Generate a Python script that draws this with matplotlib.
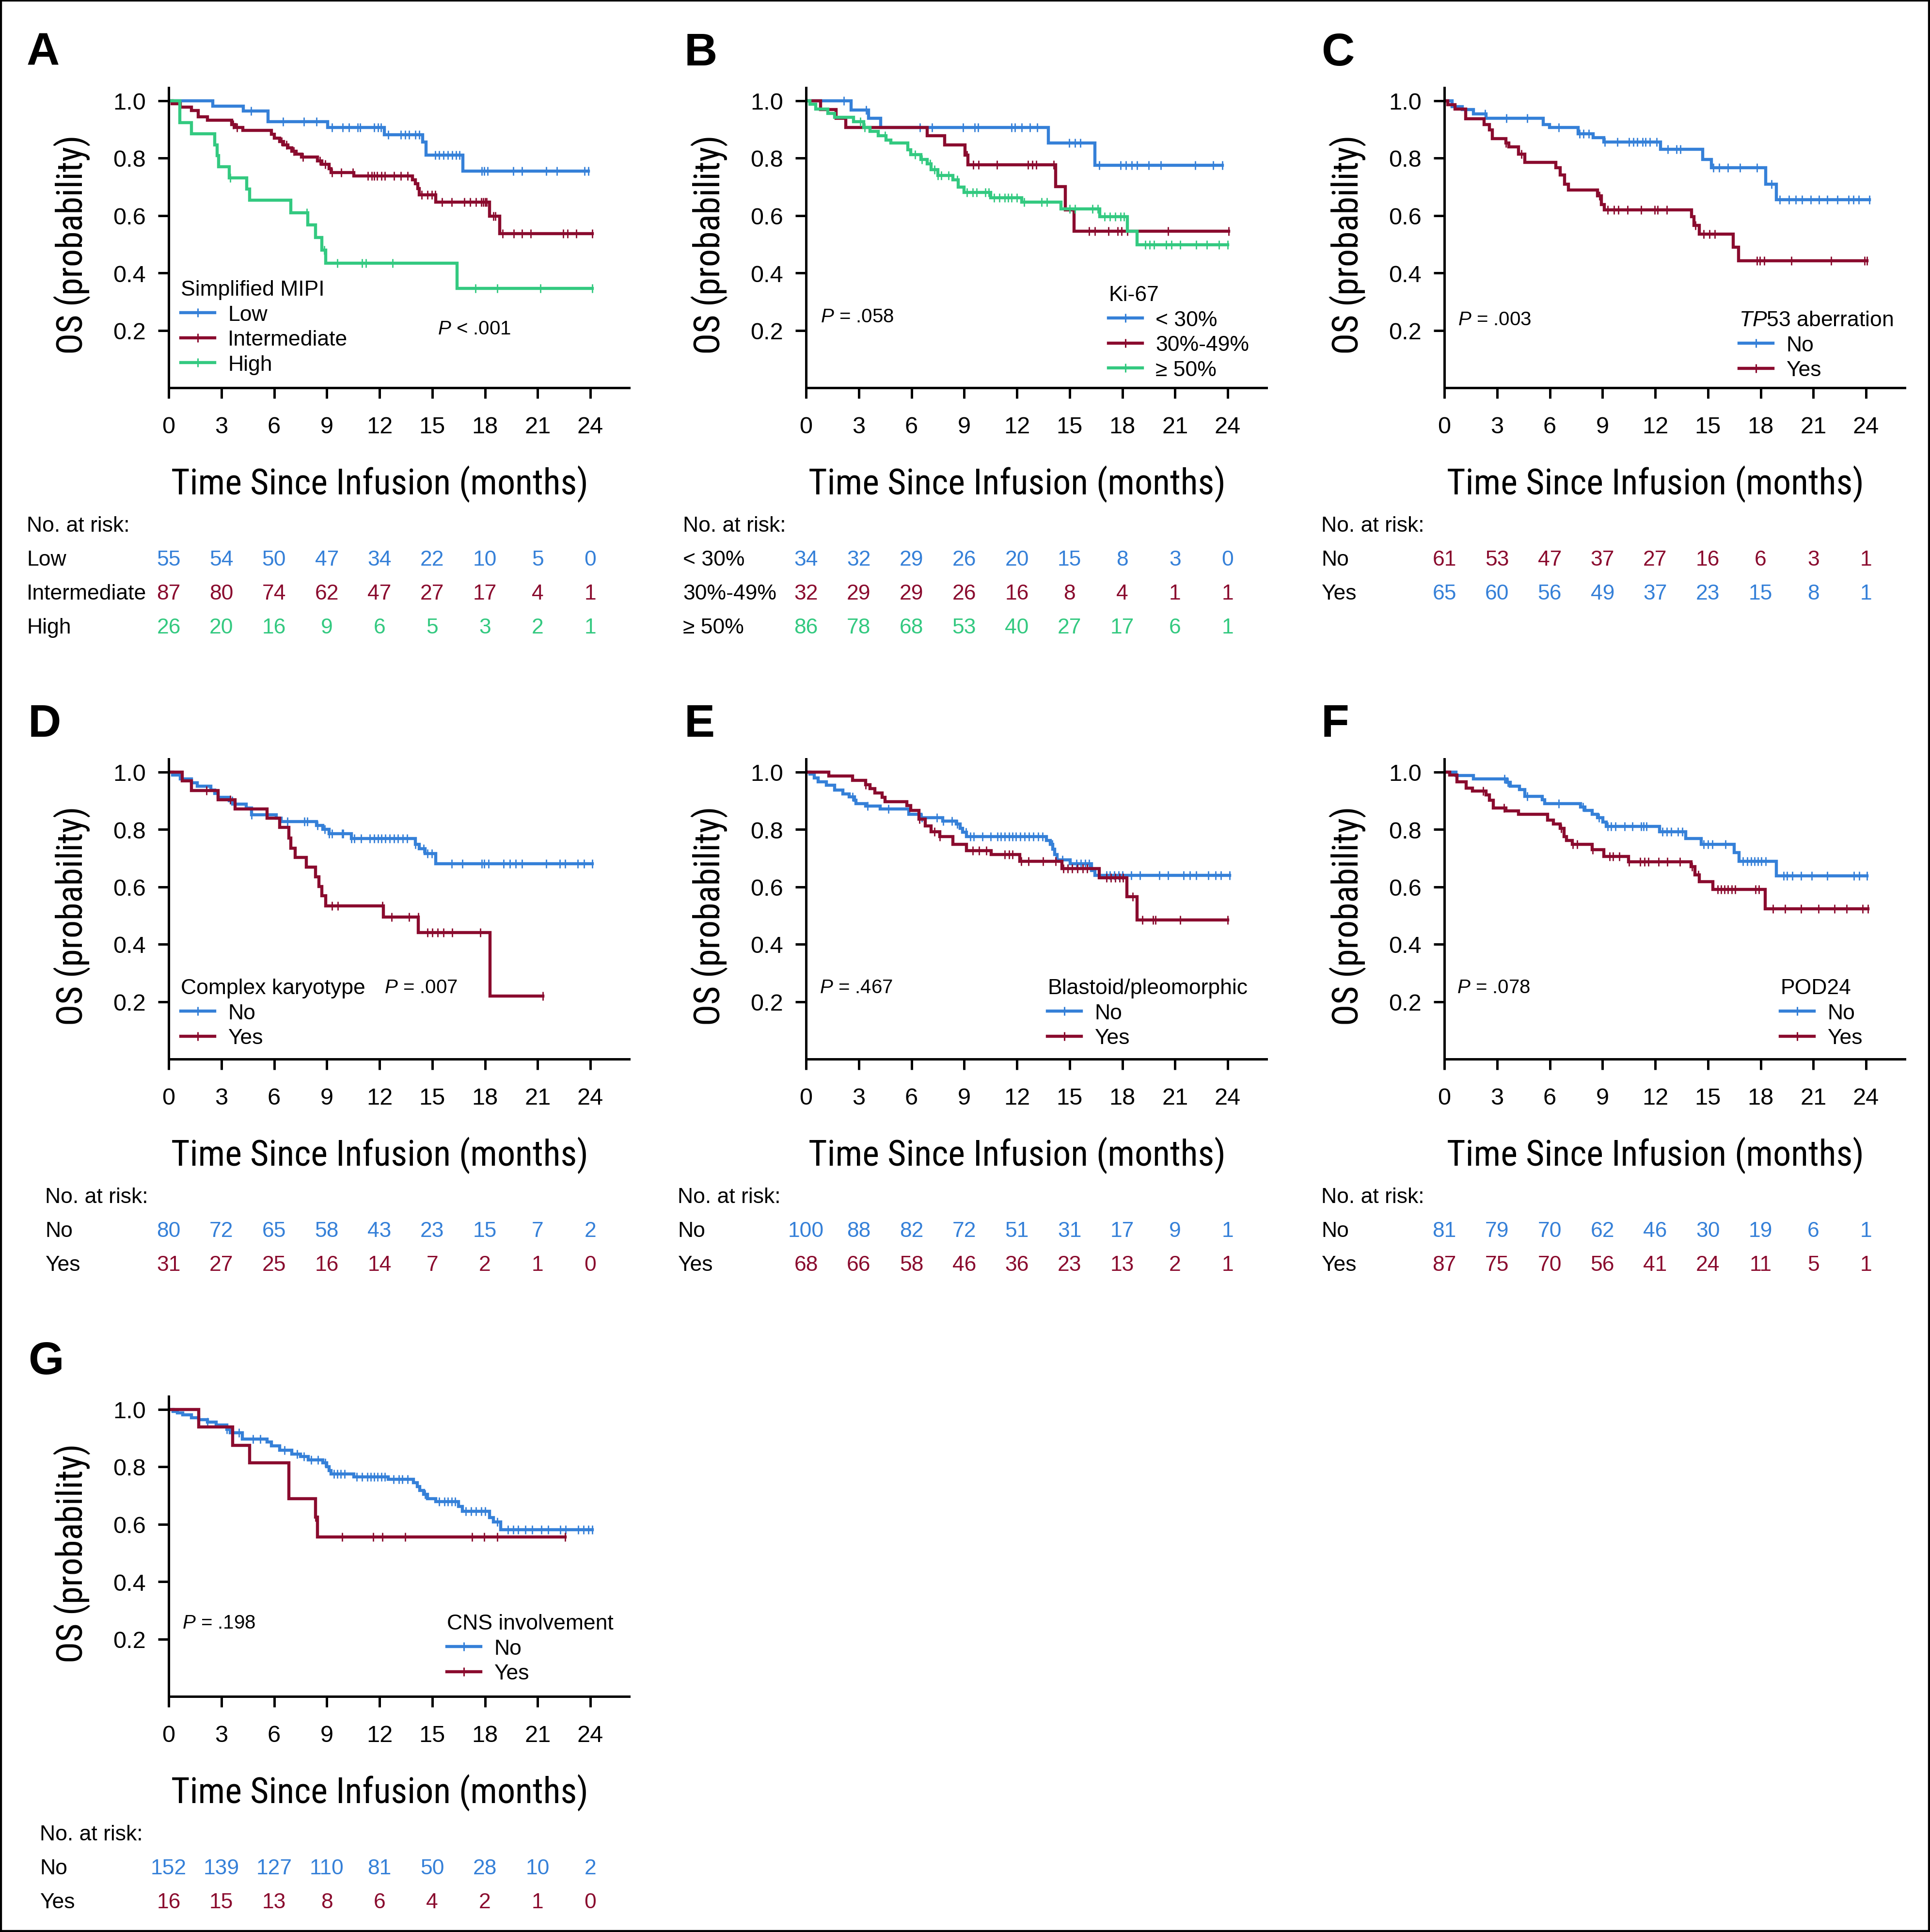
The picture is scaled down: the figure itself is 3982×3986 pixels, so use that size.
import numpy as np
import matplotlib
matplotlib.use("Agg")
import matplotlib.pyplot as plt
from matplotlib import font_manager
from matplotlib.font_manager import FontProperties
from matplotlib.lines import Line2D
from matplotlib.patches import Rectangle
from matplotlib.transforms import blended_transform_factory

BLUE = "#3580d8"
RED = "#8a0b2e"
GREEN = "#33c980"

months = [0, 3, 6, 9, 12, 15, 18, 21, 24]

# ---------- A: simplified MIPI ----------
a_low_t = [2.50, 4.26, 5.66, 9.05, 12.28, 14.45, 14.65, 16.75]
a_low_s = [0.981, 0.963, 0.927, 0.906, 0.881, 0.855, 0.810, 0.755]
a_low_c = [4.7, 6.5, 7.7, 8.4, 9.3, 9.9, 10.25, 10.76, 10.9, 11.7, 11.93, 12.09, 12.5, 13.2,
           13.45, 13.68, 14.04, 14.27, 15.16, 15.4, 15.63, 15.9, 16.14, 16.37, 16.56, 17.82,
           17.96, 18.15, 19.6, 20.1, 21.5, 22.1, 23.67, 23.9]
a_int_t = [0.19, 0.65, 1.29, 1.68, 2.22, 3.58, 3.79, 4.21, 5.85, 6.01, 6.32, 6.55, 6.78, 7.02,
           7.25, 7.56, 8.47, 8.73, 9.12, 9.24, 10.53, 13.87, 14.04, 14.18, 14.27, 15.20, 18.25, 18.83]
a_int_s = [0.989, 0.977, 0.966, 0.943, 0.931, 0.917, 0.906, 0.896, 0.882, 0.870, 0.858, 0.846,
           0.835, 0.824, 0.814, 0.803, 0.790, 0.778, 0.763, 0.750, 0.738, 0.724, 0.710, 0.693,
           0.672, 0.647, 0.598, 0.536]
a_int_c = [3.67, 3.9, 6.43, 6.7, 7.13, 7.65, 8.6, 8.9, 9.3, 9.82, 10.48, 11.35, 11.55, 11.7,
           11.86, 12.1, 12.3, 12.82, 13.2, 13.6, 14.4, 14.74, 14.98, 15.16, 15.55, 16.1, 16.84,
           17.15, 17.5, 17.8, 17.9, 18.0, 18.1, 18.48, 18.6, 19.0, 19.65, 20.1, 20.6, 22.46,
           22.7, 23.2, 24.1]
a_high_t = [0.63, 1.29, 2.62, 2.76, 2.85, 3.44, 4.44, 4.61, 6.95, 7.91, 8.37, 8.73, 8.94, 16.42]
a_high_s = [0.923, 0.885, 0.846, 0.808, 0.769, 0.731, 0.692, 0.654, 0.610, 0.567, 0.523, 0.480,
            0.433, 0.346]
a_high_c = [3.5, 7.85, 8.85, 9.6, 11.0, 11.23, 12.75, 17.47, 18.7, 21.17, 24.1]
a_risk_low = [55, 54, 50, 47, 34, 22, 10, 5, 0]
a_risk_int = [87, 80, 74, 62, 47, 27, 17, 4, 1]
a_risk_high = [26, 20, 16, 9, 6, 5, 3, 2, 1]

# ---------- B: Ki-67 ----------
b_lo_t = [2.57, 3.56, 4.26, 13.80, 16.44]
b_lo_s = [0.967, 0.938, 0.907, 0.853, 0.775]
b_lo_c = [2.15, 3.42, 6.48, 7.18, 8.94, 9.6, 9.8, 11.7, 11.9, 12.28, 12.75, 13.15, 14.97, 15.32,
          15.6, 16.7, 17.9, 18.2, 18.55, 18.83, 19.5, 20.2, 22.15, 23.16, 23.7]
b_mid_t = [0.82, 1.71, 2.27, 6.90, 7.88, 9.05, 9.20, 14.20, 14.75, 15.25]
b_mid_s = [0.969, 0.938, 0.906, 0.877, 0.845, 0.810, 0.777, 0.700, 0.620, 0.545]
b_mid_c = [9.17, 9.52, 9.82, 10.88, 12.63, 12.87, 13.1, 14.1, 16.1, 16.44, 17.2, 17.74, 17.97,
           18.28, 20.6, 24.05]
b_hi_t = [0.23, 0.54, 1.24, 1.64, 2.69, 3.27, 3.63, 4.10, 4.56, 4.84, 5.78, 5.97, 6.55, 6.90,
          7.13, 7.49, 8.35, 8.65, 9.00, 10.50, 12.28, 14.50, 16.73, 18.30, 18.85]
b_hi_s = [0.988, 0.970, 0.956, 0.942, 0.927, 0.907, 0.893, 0.877, 0.863, 0.853, 0.828, 0.812,
          0.795, 0.780, 0.760, 0.740, 0.724, 0.698, 0.680, 0.662, 0.646, 0.622, 0.595, 0.545, 0.498]
b_hi_c = [3.1, 3.35, 4.5, 6.2, 6.6, 7.05, 7.3, 7.5, 7.7, 8.1, 8.6, 9.15, 9.5, 9.7, 10.2, 10.4,
          10.7, 11.0, 11.3, 11.5, 11.7, 12.0, 12.4, 13.4, 13.7, 15.0, 15.3, 16.3, 16.6, 17.0,
          17.3, 17.6, 17.9, 18.1, 19.3, 19.55, 19.8, 20.5, 20.8, 21.3, 22.2, 22.8, 23.5, 24.0]
b_risk_lo = [34, 32, 29, 26, 20, 15, 8, 3, 0]
b_risk_mid = [32, 29, 29, 26, 16, 8, 4, 1, 1]
b_risk_hi = [86, 78, 68, 53, 40, 27, 17, 6, 1]

# ---------- C: TP53 aberration ----------
c_no_t = [0.43, 1.02, 1.66, 2.37, 5.63, 5.99, 7.60, 8.47, 9.07, 12.30, 14.70, 15.20, 18.30, 18.90]
c_no_s = [0.979, 0.969, 0.953, 0.938, 0.916, 0.906, 0.884, 0.871, 0.855, 0.830, 0.795, 0.767,
          0.709, 0.655]
c_no_c = [2.33, 3.52, 4.73, 6.5, 7.69, 7.92, 8.23, 9.14, 9.85, 10.5, 10.75, 10.98, 11.27, 11.46,
          11.7, 12.07, 12.73, 13.2, 13.44, 15.3, 15.65, 16.13, 16.83, 17.8, 18.63, 19.1, 19.6,
          19.99, 20.37, 20.85, 21.33, 21.8, 22.37, 23.0, 23.27, 23.58, 24.2]
c_yes_t = [0.19, 0.60, 1.20, 2.25, 2.56, 2.72, 3.50, 3.67, 4.21, 4.57, 6.34, 6.58, 6.84, 7.05,
           8.71, 8.95, 9.10, 14.08, 14.20, 14.50, 16.45, 16.75]
c_yes_s = [0.985, 0.970, 0.936, 0.917, 0.898, 0.867, 0.853, 0.838, 0.813, 0.784, 0.767, 0.741,
           0.709, 0.688, 0.669, 0.638, 0.619, 0.595, 0.566, 0.535, 0.490, 0.443]
c_yes_c = [3.5, 4.38, 8.83, 9.3, 9.65, 9.9, 10.44, 11.2, 11.97, 12.14, 12.66, 14.28, 14.75, 15.1,
           15.4, 17.8, 17.96, 18.2, 19.76, 22.0, 23.93, 24.05]
c_risk_no = [61, 53, 47, 37, 27, 16, 6, 3, 1]
c_risk_yes = [65, 60, 56, 49, 37, 23, 15, 8, 1]

# ---------- D: complex karyotype ----------
d_no_t = [0.23, 0.65, 1.29, 1.64, 2.39, 2.62, 2.80, 3.46, 3.63, 4.40, 4.73, 6.13, 6.39, 8.42,
          8.77, 9.12, 10.41, 14.04, 14.27, 14.60, 15.20]
d_no_s = [0.989, 0.975, 0.962, 0.950, 0.937, 0.925, 0.912, 0.900, 0.887, 0.875, 0.850, 0.838,
          0.827, 0.813, 0.800, 0.785, 0.768, 0.747, 0.733, 0.716, 0.680]
d_no_c = [3.6, 4.73, 6.75, 7.72, 7.9, 8.48, 8.87, 9.12, 9.3, 9.87, 9.94, 10.41, 10.57, 10.95,
          11.46, 11.7, 11.93, 12.12, 12.33, 12.58, 12.82, 13.05, 13.33, 13.57, 14.04, 14.5,
          14.74, 14.97, 16.1, 16.73, 17.82, 17.96, 18.2, 19.06, 19.41, 19.76, 20.1, 21.5, 22.27,
          22.57, 23.27, 23.63, 24.1]
d_yes_t = [0.77, 1.29, 2.80, 3.79, 5.61, 6.32, 6.85, 6.95, 7.20, 7.84, 8.37, 8.54, 8.73, 8.94,
           12.21, 14.22, 18.29]
d_yes_s = [0.968, 0.935, 0.903, 0.871, 0.839, 0.806, 0.770, 0.735, 0.702, 0.668, 0.635, 0.601,
           0.568, 0.534, 0.494, 0.440, 0.220]
d_yes_c = [2.15, 3.5, 9.3, 9.64, 12.16, 12.68, 13.68, 14.2, 14.74, 15.02, 15.32, 15.63, 16.14,
           17.73, 21.29]
d_risk_no = [80, 72, 65, 58, 43, 23, 15, 7, 2]
d_risk_yes = [31, 27, 25, 16, 14, 7, 2, 1, 0]

# ---------- E: blastoid/pleomorphic ----------
e_no_t = [0.23, 0.47, 0.70, 1.17, 1.64, 2.10, 2.46, 2.75, 2.85, 3.39, 4.21, 5.85, 6.55, 7.77,
          8.54, 8.77, 8.90, 9.12, 13.68, 13.90, 14.04, 14.15, 14.30, 15.04, 16.26, 16.44]
e_no_s = [0.993, 0.979, 0.965, 0.954, 0.937, 0.923, 0.913, 0.902, 0.890, 0.881, 0.871, 0.853,
          0.841, 0.829, 0.818, 0.804, 0.790, 0.775, 0.761, 0.747, 0.730, 0.712, 0.694, 0.680,
          0.656, 0.639]
e_no_c = [2.65, 3.5, 4.7, 6.6, 7.45, 7.8, 8.3, 8.6, 9.1, 9.35, 9.55, 10.05, 10.5, 10.9, 11.1,
          11.3, 11.55, 11.75, 11.95, 12.2, 12.45, 12.7, 12.95, 13.2, 13.45, 14.0, 14.6, 15.4,
          15.65, 15.9, 16.1, 17.1, 17.3, 17.55, 17.8, 18.0, 18.5, 19.0, 20.1, 20.6, 21.5, 21.85,
          22.2, 22.9, 23.3, 23.6, 24.1]
e_yes_t = [1.29, 2.64, 3.39, 3.63, 3.93, 4.33, 4.51, 5.73, 5.96, 6.43, 6.78, 7.13, 7.60, 8.35,
           9.12, 10.53, 12.16, 14.57, 16.68, 18.25, 18.83]
e_yes_s = [0.985, 0.971, 0.956, 0.941, 0.927, 0.912, 0.897, 0.882, 0.866, 0.835, 0.812, 0.792,
           0.775, 0.747, 0.726, 0.712, 0.688, 0.663, 0.632, 0.565, 0.484]
e_yes_c = [3.4, 6.45, 7.3, 7.6, 9.5, 9.85, 10.25, 11.3, 11.55, 11.75, 12.25, 12.65, 13.5, 14.2,
           14.65, 14.9, 15.15, 15.45, 15.75, 16.0, 17.1, 17.35, 17.6, 17.85, 18.05, 18.6, 19.15,
           19.75, 19.9, 21.3, 24.0]
e_risk_no = [100, 88, 82, 72, 51, 31, 17, 9, 1]
e_risk_yes = [68, 66, 58, 46, 36, 23, 13, 2, 1]

# ---------- F: POD24 ----------
f_no_t = [0.66, 1.66, 3.57, 3.74, 4.28, 4.57, 5.56, 5.70, 7.76, 8.00, 8.40, 8.71, 9.02, 9.20,
          12.26, 13.75, 14.63, 16.50, 16.76, 18.89]
f_no_s = [0.988, 0.975, 0.963, 0.951, 0.938, 0.915, 0.903, 0.890, 0.878, 0.866, 0.853, 0.840,
          0.825, 0.810, 0.792, 0.768, 0.747, 0.719, 0.688, 0.638]
f_no_c = [3.43, 3.6, 4.73, 6.5, 7.9, 8.8, 9.3, 9.5, 9.75, 10.25, 10.7, 11.2, 11.35, 11.5, 12.4,
          12.65, 12.9, 13.3, 13.55, 14.75, 15.0, 15.25, 16.0, 17.0, 17.25, 17.45, 17.65, 17.85,
          18.05, 18.3, 19.3, 19.5, 19.8, 20.3, 20.9, 21.8, 23.3, 23.6, 24.05]
f_yes_t = [0.30, 0.71, 1.25, 1.60, 2.37, 2.56, 2.79, 3.50, 4.21, 5.87, 6.22, 6.58, 6.82, 6.95,
           7.29, 8.40, 9.07, 10.49, 14.04, 14.27, 14.50, 15.29, 18.25]
f_yes_s = [0.989, 0.965, 0.944, 0.933, 0.919, 0.902, 0.874, 0.864, 0.853, 0.832, 0.818, 0.804,
           0.775, 0.761, 0.747, 0.729, 0.705, 0.687, 0.670, 0.642, 0.617, 0.590, 0.523]
f_yes_c = [2.2, 3.4, 6.65, 7.3, 7.55, 8.45, 9.4, 9.6, 9.95, 10.5, 11.15, 11.4, 11.6, 12.2, 12.7,
           13.4, 14.1, 14.45, 15.55, 15.75, 15.95, 16.15, 16.35, 16.55, 17.7, 17.9, 18.7, 19.4,
           20.3, 21.3, 22.2, 22.9, 23.8, 24.1]
f_risk_no = [81, 79, 70, 62, 46, 30, 19, 6, 1]
f_risk_yes = [87, 75, 70, 56, 41, 24, 11, 5, 1]

# ---------- G: CNS involvement ----------
g_no_t = [0.25, 0.50, 0.80, 1.30, 1.70, 2.20, 2.70, 3.30, 3.50, 4.20, 5.60, 5.85, 6.32, 7.00,
          7.50, 7.95, 8.77, 9.00, 9.12, 9.24, 10.53, 12.50, 13.92, 14.15, 14.30, 14.50, 14.74,
          15.20, 16.50, 16.73, 18.25, 18.48, 18.90]
g_no_s = [0.993, 0.987, 0.980, 0.970, 0.963, 0.955, 0.945, 0.930, 0.918, 0.897, 0.886, 0.872,
          0.858, 0.844, 0.835, 0.824, 0.814, 0.800, 0.786, 0.775, 0.765, 0.756, 0.744, 0.731,
          0.717, 0.703, 0.689, 0.679, 0.661, 0.644, 0.622, 0.608, 0.581]
g_no_c = [2.2, 3.3, 4.0, 4.8, 5.2, 6.6, 7.3, 7.7, 8.1, 8.5, 8.9, 9.4, 9.6, 9.8, 10.0, 10.7, 11.0,
          11.3, 11.5, 11.7, 11.9, 12.1, 12.3, 12.8, 13.1, 13.3, 13.6, 14.6, 15.4, 15.7, 15.9,
          16.1, 16.3, 16.9, 17.2, 17.5, 17.8, 18.0, 18.7, 19.3, 19.6, 19.9, 20.3, 20.7, 21.2,
          21.6, 22.3, 22.6, 23.3, 23.6, 23.9, 24.1]
g_yes_t = [1.71, 3.63, 4.61, 6.85, 8.37, 8.47]
g_yes_s = [0.938, 0.875, 0.813, 0.688, 0.625, 0.556]
g_yes_c = [8.37, 9.87, 11.65, 12.16, 13.45, 17.26, 17.96, 18.71, 22.57]
g_risk_no = [152, 139, 127, 110, 81, 50, 28, 10, 2]
g_risk_yes = [16, 15, 13, 8, 6, 4, 2, 1, 0]

# ---------- layout (pixels of the 3982 x 3987 canvas) ----------
W, H = 3982, 3987
ROW = [0, 1385, 2700]
COL = [0, 1315, 2632]
PX_MONTH = 36.25
PX_UNIT = 592.5
AX_W, AX_H = 950, 619
XMAX = AX_W / PX_MONTH
YMAX = AX_H / PX_UNIT
XLABEL_W = 861   # rendered width of the x title
YLABEL_H = 453   # rendered length of the y title

fm = font_manager.fontManager
names = {f.name for f in fm.ttflist}
SANS = "Liberation Sans" if "Liberation Sans" in names else "DejaVu Sans"


def pick_condensed():
    prefs = ["Liberation Sans Narrow", "Roboto Condensed", "Noto Sans", "Open Sans",
             "DejaVu Sans", "Roboto"]
    found = []
    for f in fm.ttflist:
        cond = ("Narrow" in f.name or "Condensed" in f.name
                or str(f.stretch) in ("condensed", "semi-condensed", "extra-condensed"))
        regular = f.style == "normal" and f.weight in (400, "normal", "regular", "book")
        if cond and regular:
            base = next((i for i, p in enumerate(prefs) if f.name.startswith(p)), len(prefs))
            found.append((base, f.fname))
    if found:
        return FontProperties(fname=sorted(found)[0][1])
    return FontProperties(family=["Roboto", SANS])


TITLE_FP = pick_condensed()

plt.rcParams["font.family"] = [SANS, "DejaVu Sans"]
plt.rcParams["mathtext.fontset"] = "custom"
plt.rcParams["mathtext.rm"] = SANS
plt.rcParams["mathtext.it"] = SANS + ":italic"

fig = plt.figure(figsize=(W / 100, H / 100), dpi=100)
renderer = fig.canvas.get_renderer()

LW = 4.6
FS_LEG = 32
FS_TAB = 32


def fx(px):
    return px / W


def fy(py):
    return 1 - py / H


def draw_curve(ax, times, surv, cens, color):
    end = max(times[-1], max(cens))
    x = [0] + list(times) + [end]
    y = [1.0] + list(surv) + [surv[-1]]
    ax.step(x, y, where="post", color=color, lw=LW, solid_joinstyle="miter")
    s_all = np.array([1.0] + list(surv))
    idx = np.searchsorted(np.array(times), np.array(cens), side="right")
    ax.plot(cens, s_all[idx], ls="none", marker="|", ms=12.5, mew=2.0, color=color)


def fit(txt, target, vertical=False):
    bb = txt.get_window_extent(renderer)
    size = bb.height if vertical else bb.width
    txt.set_fontsize(txt.get_fontsize() * target / size)


def panel(col, row, letter, letter_x, curves, leg_title, leg_xy, pval, p_xy, rows, table_x):
    c0, r0 = COL[col], ROW[row]
    ax = fig.add_axes([fx(348 + c0), fy(182 + r0 + AX_H), fx(AX_W), AX_H / H])
    for times, surv, cens, color, _ in curves:
        draw_curve(ax, times, surv, cens, color)
    ax.set_xlim(0, XMAX)
    ax.set_ylim(0, YMAX)
    for s in ("top", "right"):
        ax.spines[s].set_visible(False)
    for s in ("left", "bottom"):
        ax.spines[s].set_linewidth(3.6)
    ax.set_xticks(months)
    ax.set_yticks([0.2, 0.4, 0.6, 0.8, 1.0])
    ax.set_yticklabels(["0.2", "0.4", "0.6", "0.8", "1.0"])
    ax.tick_params(axis="both", direction="out", length=16, width=3.6, labelsize=35)
    ax.tick_params(axis="x", pad=26)
    ax.tick_params(axis="y", pad=18)

    ax.set_xlabel("Time Since Infusion (months)", fontproperties=TITLE_FP)
    ax.xaxis.label.set_fontsize(54)
    ax.xaxis.label.set_va("baseline")
    fit(ax.xaxis.label, XLABEL_W)
    ax.xaxis.set_label_coords(12 / XMAX, (801 - 1020) / AX_H)
    ax.set_ylabel("OS (probability)", fontproperties=TITLE_FP)
    ax.yaxis.label.set_fontsize(54)
    ax.yaxis.label.set_va("baseline")
    fit(ax.yaxis.label, YLABEL_H, vertical=True)
    ax.yaxis.set_label_coords((170 - 348) / AX_W, 0.5 / YMAX)

    fig.text(fx(c0 + letter_x), fy(r0 + 135), letter, fontsize=68, weight="bold",
             ha="left", va="baseline")

    handles = [Line2D([], [], color=c, lw=LW, marker="|", ms=12.5, mew=2.2)
               for _, _, _, c, _ in curves]
    labels = [lab for *_, lab in curves]
    ax.legend(handles, labels, title=leg_title, loc="upper left",
              bbox_to_anchor=(fx(c0 + leg_xy[0]), fy(r0 + leg_xy[1])),
              bbox_transform=fig.transFigure, frameon=False, fontsize=FS_LEG,
              title_fontsize=FS_LEG, borderpad=0, borderaxespad=0, handlelength=1.58,
              handletextpad=0.61, labelspacing=0.24, alignment="left", numpoints=1)

    fig.text(fx(c0 + p_xy[0]), fy(r0 + p_xy[1]), pval, fontsize=29, ha="left", va="baseline")

    tr = blended_transform_factory(ax.transData, fig.transFigure)
    fig.text(fx(c0 + table_x), fy(r0 + 1097), "No. at risk:", fontsize=FS_TAB, va="baseline")
    for i, (lab, vals, color) in enumerate(rows):
        yb = fy(r0 + 1167 + 70 * i)
        fig.text(fx(c0 + table_x), yb, lab, fontsize=FS_TAB, va="baseline")
        for m, v in zip(months, vals):
            ax.text(m, yb, str(v), transform=tr, ha="center", va="baseline", fontsize=FS_TAB,
                    color=color)
    return ax


panel(0, 0, "A", 55,
      [(a_low_t, a_low_s, a_low_c, BLUE, "Low"),
       (a_int_t, a_int_s, a_int_c, RED, "Intermediate"),
       (a_high_t, a_high_s, a_high_c, GREEN, "High")],
      "Simplified MIPI", (373, 578), r"$P$ < .001", (903, 690),
      [("Low", a_risk_low, BLUE), ("Intermediate", a_risk_int, RED),
       ("High", a_risk_high, GREEN)], 55)

panel(1, 0, "B", 97,
      [(b_lo_t, b_lo_s, b_lo_c, BLUE, "< 30%"),
       (b_mid_t, b_mid_s, b_mid_c, RED, "30%-49%"),
       (b_hi_t, b_hi_s, b_hi_c, GREEN, "\u2265 50%")],
      "Ki-67", (972, 589), r"$P$ = .058", (378, 665),
      [("< 30%", b_risk_lo, BLUE), ("30%-49%", b_risk_mid, RED),
       ("\u2265 50%", b_risk_hi, GREEN)], 94)

panel(2, 0, "C", 94,
      [(c_no_t, c_no_s, c_no_c, BLUE, "No"),
       (c_yes_t, c_yes_s, c_yes_c, RED, "Yes")],
      r"$TP53$ aberration", (956, 641), r"$P$ = .003", (376, 671),
      [("No", c_risk_no, RED), ("Yes", c_risk_yes, BLUE)], 94)

panel(0, 1, "D", 58,
      [(d_no_t, d_no_s, d_no_c, BLUE, "No"),
       (d_yes_t, d_yes_s, d_yes_c, RED, "Yes")],
      "Complex karyotype", (373, 634), r"$P$ = .007", (793, 664),
      [("No", d_risk_no, BLUE), ("Yes", d_risk_yes, RED)], 93)

panel(1, 1, "E", 97,
      [(e_no_t, e_no_s, e_no_c, BLUE, "No"),
       (e_yes_t, e_yes_s, e_yes_c, RED, "Yes")],
      "Blastoid/pleomorphic", (846, 634), r"$P$ = .467", (376, 664),
      [("No", e_risk_no, BLUE), ("Yes", e_risk_yes, RED)], 83)

panel(2, 1, "F", 94,
      [(f_no_t, f_no_s, f_no_c, BLUE, "No"),
       (f_yes_t, f_yes_s, f_yes_c, RED, "Yes")],
      "POD24", (1041, 634), r"$P$ = .078", (374, 664),
      [("No", f_risk_no, BLUE), ("Yes", f_risk_yes, RED)], 94)

panel(0, 2, "G", 58,
      [(g_no_t, g_no_s, g_no_c, BLUE, "No"),
       (g_yes_t, g_yes_s, g_yes_c, RED, "Yes")],
      "CNS involvement", (922, 630), r"$P$ = .198", (376, 660),
      [("No", g_risk_no, BLUE), ("Yes", g_risk_yes, RED)], 82)

fig.patches.append(Rectangle((0, 0), 1, 1, transform=fig.transFigure, fill=False,
                             lw=6, ec="black"))

fig.savefig("out.png", dpi=100)
